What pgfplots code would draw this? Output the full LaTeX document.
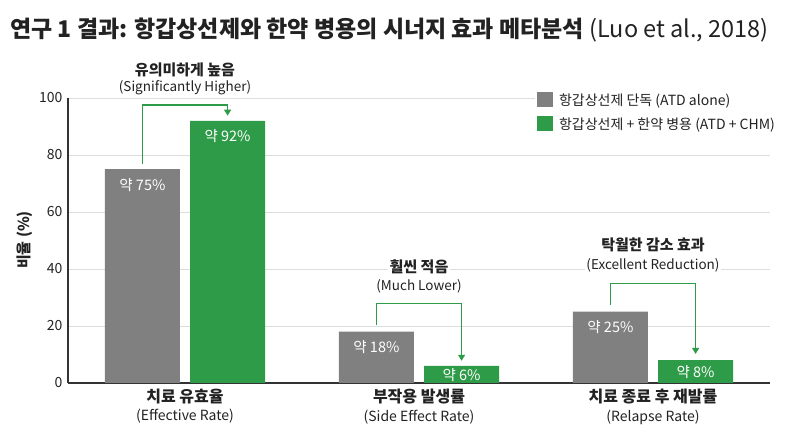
\documentclass[border=0pt]{standalone}
\usepackage{fontspec}
\setmainfont{Noto Sans CJK KR}
\usepackage{pgfplots}
\pgfplotsset{compat=1.18}
\usetikzlibrary{arrows.meta}
\definecolor{bargray}{HTML}{808080}
\definecolor{bargreen}{HTML}{2E9B48}
\definecolor{txt}{HTML}{222222}
\definecolor{gridc}{HTML}{DDDDDD}
\definecolor{axc}{HTML}{333333}
\begin{document}
\begin{tikzpicture}[x=1pt,y=1pt]
\path[use as bounding box] (0,0) rectangle (800,436);
\node[anchor=west, text=txt, inner sep=0] at (10,406) {\fontsize{23}{26}\selectfont\bfseries 연구 1 결과: 항갑상선제와 한약 병용의 시너지 효과 메타분석 \fontsize{23.5}{26}\selectfont\mdseries (Luo et al., 2018)};
\node[rotate=90, text=txt] at (25,196) {\fontsize{15}{18}\selectfont\bfseries 비율 (\%)};
\begin{axis}[
  at={(68pt,53pt)}, anchor=south west,
  scale only axis, width=702pt, height=285pt,
  xmin=-0.5, xmax=2.5, ymin=0, ymax=100,
  axis x line*=bottom, axis y line*=left,
  axis line style={axc, line width=1.2pt, -},
  ytick={0,20,40,60,80,100},
  ymajorgrids, grid style={gridc, line width=0.8pt},
  major tick length=0pt,
  xtick={0,1,2},
  xticklabels={{\fontsize{16}{20}\selectfont\bfseries 치료 유효율\\[5pt]\fontsize{14}{18}\selectfont (Effective Rate)},
               {\fontsize{16}{20}\selectfont\bfseries 부작용 발생률\\[5pt]\fontsize{14}{18}\selectfont (Side Effect Rate)},
               {\fontsize{16}{20}\selectfont\bfseries 치료 종료 후 재발률\\[5pt]\fontsize{14}{18}\selectfont (Relapse Rate)}},
  xticklabel style={align=center, text=txt, yshift=-2pt},
  yticklabel style={font=\fontsize{14}{16}\selectfont, text=txt, xshift=-2pt},
  /pgf/number format/assume math mode=true,
  ybar, bar width=0.32,
  clip=false,
  visualization depends on={ifthenelse(y<7,-9,ifthenelse(y<10,-12,-15.5)) \as \labshift},
  nodes near coords={약 \pgfmathprintnumber{\pgfplotspointmeta}\%},
  every node near coord/.append style={anchor=center, yshift=\labshift pt, text=white, font=\fontsize{14.5}{16}\selectfont},
  legend style={at={(rel axis cs:0.665,1.03)}, anchor=north west, draw=none, fill=white,
    font=\fontsize{14}{18}\selectfont, text=txt, row sep=7pt, inner sep=2pt},
  legend cell align=left,
  legend image code/.code={\fill[#1] (0pt,-7pt) rectangle (16pt,8pt);},
  legend style={/tikz/every even column/.append style={column sep=0pt}},
]
\addplot[fill=bargray, draw=none, bar shift=-0.182] coordinates {(0,75) (1,18) (2,25)};
\addplot[fill=bargreen, draw=none, bar shift=0.182] coordinates {(0,92) (1,6) (2,8)};
\legend{\hspace{4pt}항갑상선제 단독 (ATD alone), \hspace{4pt}항갑상선제 + 한약 병용 (ATD + CHM)}
\draw[bargreen, line width=1.3pt, -{Triangle[length=6pt,width=7pt]}] (axis cs:-0.182,77) |- (axis cs:0.182,97.5) -- (axis cs:0.182,93.8);
\draw[bargreen, line width=1.3pt, -{Triangle[length=6pt,width=7pt]}] (axis cs:0.818,20.5) |- (axis cs:1.182,28) -- (axis cs:1.182,7.8);
\draw[bargreen, line width=1.3pt, -{Triangle[length=6pt,width=7pt]}] (axis cs:1.818,27.5) |- (axis cs:2.182,35) -- (axis cs:2.182,10.2);
\node[fill=white, text=txt, inner sep=1.5pt] at (axis cs:0,110) {\fontsize{15}{18}\selectfont\bfseries 유의미하게 높음};
\node[fill=white, text=txt, inner sep=1.5pt] at (axis cs:0,103.5) {\fontsize{13.5}{16}\selectfont (Significantly Higher)};
\node[fill=white, text=txt, inner sep=1.5pt] at (axis cs:1,40.6) {\fontsize{15}{18}\selectfont\bfseries 훨씬 적음};
\node[fill=white, text=txt, inner sep=1.5pt] at (axis cs:1,33.8) {\fontsize{13.5}{16}\selectfont (Much Lower)};
\node[fill=white, text=txt, inner sep=1.5pt] at (axis cs:2,48.5) {\fontsize{15}{18}\selectfont\bfseries 탁월한 감소 효과};
\node[fill=white, text=txt, inner sep=1.5pt] at (axis cs:2,41.2) {\fontsize{13.5}{16}\selectfont (Excellent Reduction)};
\end{axis}
\end{tikzpicture}
\end{document}
